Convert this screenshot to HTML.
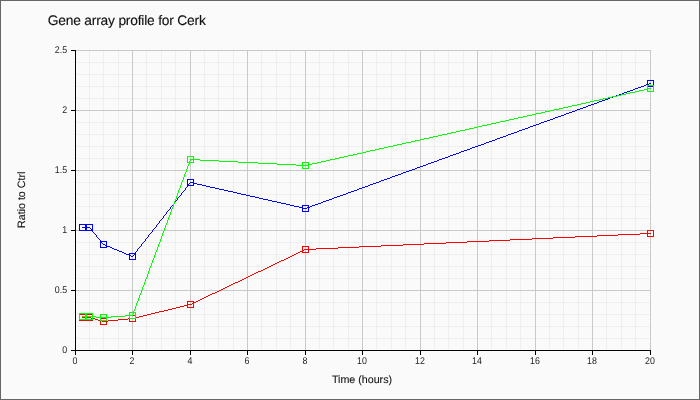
<!DOCTYPE html>
<html><head><meta charset="utf-8"><title>Gene array profile for Cerk</title>
<style>
html,body{margin:0;padding:0;background:#fafafa;}
body{width:700px;height:400px;overflow:hidden;}
svg{display:block;text-rendering:geometricPrecision;will-change:transform;font-family:"Liberation Sans",Arial,sans-serif;}
</style></head><body>
<svg width="700" height="400" viewBox="0 0 700 400">
<rect x="0" y="0" width="700" height="400" fill="#fafafa"/>
<rect x="0.5" y="0.5" width="699" height="399" fill="none" stroke="#666" stroke-width="1" shape-rendering="crispEdges"/>
<g shape-rendering="crispEdges" stroke-width="1" fill="none">
<path d="M89.5 50V350M103.5 50V350M118.5 50V350M146.5 50V350M161.5 50V350M175.5 50V350M204.5 50V350M218.5 50V350M233.5 50V350M261.5 50V350M276.5 50V350M290.5 50V350M319.5 50V350M333.5 50V350M348.5 50V350M376.5 50V350M391.5 50V350M405.5 50V350M434.5 50V350M448.5 50V350M463.5 50V350M491.5 50V350M506.5 50V350M520.5 50V350M549.5 50V350M563.5 50V350M578.5 50V350M606.5 50V350M621.5 50V350M635.5 50V350M75 338.5H651M75 326.5H651M75 314.5H651M75 302.5H651M75 278.5H651M75 266.5H651M75 254.5H651M75 242.5H651M75 218.5H651M75 206.5H651M75 194.5H651M75 182.5H651M75 158.5H651M75 146.5H651M75 134.5H651M75 122.5H651M75 98.5H651M75 86.5H651M75 74.5H651M75 62.5H651" stroke="#efefef"/>
<path d="M75.5 50V350M132.5 50V350M190.5 50V350M247.5 50V350M305.5 50V350M362.5 50V350M420.5 50V350M477.5 50V350M535.5 50V350M592.5 50V350M650.5 50V350M75 350.5H651M75 290.5H651M75 230.5H651M75 170.5H651M75 110.5H651M75 50.5H651" stroke="#c9c9c9"/>
<path d="M75.5 50V351M75 350.5H651M75.5 350V355M132.5 350V355M190.5 350V355M247.5 350V355M305.5 350V355M362.5 350V355M420.5 350V355M477.5 350V355M535.5 350V355M592.5 350V355M650.5 350V355M71 350.5H75M71 290.5H75M71 230.5H75M71 170.5H75M71 110.5H75M71 50.5H75" stroke="#000"/>
<path d="M79 224h14v1h-14zM85 225h2v1h-2zM85 226h2v1h-2zM82 227h8v1h-8zM85 228h2v1h-2zM85 229h2v1h-2zM91 229h2v1h-2zM79 230h14v1h-14zM100 241h7v1h-7zM100 242h2v1h-2zM103 244h2v1h-2zM105 245h2v1h-2zM106 246h4v1h-4zM100 247h7v1h-7zM110 247h2v1h-2zM112 248h2v1h-2zM114 249h3v1h-3zM117 250h2v1h-2zM119 251h3v1h-3zM122 252h2v1h-2zM124 253h2v1h-2zM129 253h7v1h-7zM126 254h4v1h-4zM134 254h2v1h-2zM129 255h2v1h-2zM131 256h2v1h-2zM129 259h7v1h-7zM302 211h7v1h-7zM299 207h4v1h-4zM307 207h3v1h-3zM302 208h5v1h-5zM294 206h5v1h-5zM310 206h2v1h-2zM290 205h4v1h-4zM302 205h7v1h-7zM312 205h3v1h-3zM286 204h4v1h-4zM315 204h3v1h-3zM277 202h4v1h-4zM321 202h2v1h-2zM281 203h5v1h-5zM318 203h3v1h-3zM272 201h5v1h-5zM323 201h3v1h-3zM268 200h4v1h-4zM326 200h3v1h-3zM259 198h4v1h-4zM332 198h2v1h-2zM263 199h5v1h-5zM329 199h3v1h-3zM255 197h4v1h-4zM334 197h3v1h-3zM250 196h5v1h-5zM337 196h3v1h-3zM246 195h4v1h-4zM340 195h3v1h-3zM237 193h4v1h-4zM346 193h2v1h-2zM241 194h5v1h-5zM343 194h3v1h-3zM233 192h4v1h-4zM348 192h3v1h-3zM228 191h5v1h-5zM351 191h3v1h-3zM224 190h4v1h-4zM354 190h3v1h-3zM215 188h4v1h-4zM359 188h3v1h-3zM219 189h5v1h-5zM357 189h2v1h-2zM210 187h5v1h-5zM362 187h3v1h-3zM187 179h7v1h-7zM384 179h3v1h-3zM381 180h3v1h-3zM379 181h2v1h-2zM190 182h4v1h-4zM376 182h3v1h-3zM193 183h4v1h-4zM373 183h3v1h-3zM187 184h2v1h-2zM197 184h5v1h-5zM370 184h3v1h-3zM187 185h7v1h-7zM202 185h4v1h-4zM368 185h2v1h-2zM206 186h4v1h-4zM365 186h3v1h-3zM387 178h3v1h-3zM390 177h2v1h-2zM392 176h3v1h-3zM395 175h3v1h-3zM398 174h3v1h-3zM401 173h2v1h-2zM403 172h3v1h-3zM406 171h3v1h-3zM409 170h3v1h-3zM412 169h3v1h-3zM415 168h2v1h-2zM417 167h3v1h-3zM420 166h3v1h-3zM423 165h3v1h-3zM426 164h2v1h-2zM428 163h3v1h-3zM431 162h3v1h-3zM434 161h3v1h-3zM437 160h2v1h-2zM439 159h3v1h-3zM442 158h3v1h-3zM445 157h3v1h-3zM448 156h2v1h-2zM450 155h3v1h-3zM453 154h3v1h-3zM456 153h3v1h-3zM459 152h2v1h-2zM461 151h3v1h-3zM464 150h3v1h-3zM467 149h3v1h-3zM470 148h2v1h-2zM472 147h3v1h-3zM475 146h3v1h-3zM478 145h3v1h-3zM481 144h3v1h-3zM484 143h2v1h-2zM486 142h3v1h-3zM489 141h3v1h-3zM492 140h3v1h-3zM495 139h2v1h-2zM497 138h3v1h-3zM500 137h3v1h-3zM503 136h3v1h-3zM506 135h2v1h-2zM508 134h3v1h-3zM511 133h3v1h-3zM514 132h3v1h-3zM517 131h2v1h-2zM519 130h3v1h-3zM522 129h3v1h-3zM525 128h3v1h-3zM528 127h2v1h-2zM530 126h3v1h-3zM533 125h3v1h-3zM536 124h3v1h-3zM539 123h2v1h-2zM541 122h3v1h-3zM544 121h3v1h-3zM547 120h3v1h-3zM550 119h3v1h-3zM553 118h2v1h-2zM555 117h3v1h-3zM558 116h3v1h-3zM561 115h3v1h-3zM564 114h2v1h-2zM566 113h3v1h-3zM569 112h3v1h-3zM572 111h3v1h-3zM575 110h2v1h-2zM577 109h3v1h-3zM580 108h3v1h-3zM583 107h3v1h-3zM586 106h2v1h-2zM588 105h3v1h-3zM591 104h3v1h-3zM594 103h3v1h-3zM597 102h2v1h-2zM599 101h3v1h-3zM602 100h3v1h-3zM605 99h3v1h-3zM608 98h2v1h-2zM610 97h3v1h-3zM613 96h3v1h-3zM616 95h3v1h-3zM619 94h3v1h-3zM622 93h2v1h-2zM624 92h3v1h-3zM627 91h3v1h-3zM630 90h3v1h-3zM633 89h2v1h-2zM635 88h3v1h-3zM638 87h3v1h-3zM641 86h3v1h-3zM647 86h7v1h-7zM644 85h2v1h-2zM646 84h3v1h-3zM647 80h7v1h-7zM649 83h2v1h-2zM157 224h1v1h-1zM79 225h1v5h-1zM92 225h1v4h-1zM92 231h1v1h-1zM156 225h1v2h-1zM155 227h1v1h-1zM90 228h1v1h-1zM154 228h1v1h-1zM153 229h1v1h-1zM152 230h1v2h-1zM93 232h1v1h-1zM151 232h1v1h-1zM94 233h1v1h-1zM150 233h1v1h-1zM95 234h1v1h-1zM149 234h1v1h-1zM96 235h1v2h-1zM148 235h1v2h-1zM97 237h1v1h-1zM147 237h1v1h-1zM98 238h1v1h-1zM146 238h1v1h-1zM99 239h1v1h-1zM145 239h1v2h-1zM100 240h1v1h-1zM100 243h1v4h-1zM144 241h1v1h-1zM106 242h1v3h-1zM143 242h1v1h-1zM102 243h1v1h-1zM142 243h1v1h-1zM141 244h1v2h-1zM140 246h1v1h-1zM139 247h1v1h-1zM138 248h1v1h-1zM137 249h1v2h-1zM136 251h1v1h-1zM135 252h1v1h-1zM135 255h1v4h-1zM133 255h1v1h-1zM129 256h1v3h-1zM158 223h1v1h-1zM159 221h1v2h-1zM160 220h1v1h-1zM161 219h1v1h-1zM162 218h1v1h-1zM163 216h1v2h-1zM164 215h1v1h-1zM165 214h1v1h-1zM166 212h1v2h-1zM167 211h1v1h-1zM168 210h1v1h-1zM302 206h1v1h-1zM302 209h1v2h-1zM308 206h1v1h-1zM308 208h1v3h-1zM169 209h1v1h-1zM170 207h1v2h-1zM171 206h1v1h-1zM172 205h1v1h-1zM173 204h1v1h-1zM174 202h1v2h-1zM175 201h1v1h-1zM176 200h1v1h-1zM177 198h1v2h-1zM178 197h1v1h-1zM179 196h1v1h-1zM180 195h1v1h-1zM181 193h1v2h-1zM182 192h1v1h-1zM183 191h1v1h-1zM184 190h1v1h-1zM185 188h1v2h-1zM186 187h1v1h-1zM187 180h1v4h-1zM187 186h1v1h-1zM193 180h1v2h-1zM193 184h1v1h-1zM189 183h1v1h-1zM647 81h1v3h-1zM647 85h1v1h-1zM653 81h1v5h-1z" fill="#0000ff" stroke="none"/>
<path d="M79 314h14v1h-14zM147 314h4v1h-4zM85 315h2v1h-2zM129 315h7v1h-7zM143 315h4v1h-4zM85 316h2v1h-2zM139 316h4v1h-4zM82 317h9v1h-9zM135 317h4v1h-4zM85 318h2v1h-2zM91 318h4v1h-4zM100 318h7v1h-7zM128 318h8v1h-8zM85 319h2v1h-2zM95 319h3v1h-3zM118 319h10v1h-10zM79 320h14v1h-14zM98 320h4v1h-4zM108 320h10v1h-10zM102 321h6v1h-6zM129 321h7v1h-7zM100 324h7v1h-7zM151 313h4v1h-4zM155 312h4v1h-4zM159 311h5v1h-5zM164 310h4v1h-4zM168 309h4v1h-4zM172 308h4v1h-4zM176 307h4v1h-4zM187 307h7v1h-7zM180 306h4v1h-4zM184 305h4v1h-4zM187 301h7v1h-7zM196 301h2v1h-2zM193 302h3v1h-3zM192 303h2v1h-2zM187 304h5v1h-5zM198 300h2v1h-2zM200 299h2v1h-2zM202 298h2v1h-2zM204 297h2v1h-2zM206 296h2v1h-2zM208 295h2v1h-2zM210 294h2v1h-2zM212 293h3v1h-3zM215 292h2v1h-2zM217 291h2v1h-2zM219 290h2v1h-2zM221 289h2v1h-2zM223 288h2v1h-2zM225 287h2v1h-2zM227 286h2v1h-2zM229 285h2v1h-2zM231 284h2v1h-2zM233 283h2v1h-2zM235 282h3v1h-3zM238 281h2v1h-2zM240 280h2v1h-2zM242 279h2v1h-2zM244 278h2v1h-2zM246 277h2v1h-2zM248 276h2v1h-2zM250 275h2v1h-2zM252 274h2v1h-2zM254 273h2v1h-2zM256 272h2v1h-2zM258 271h3v1h-3zM261 270h2v1h-2zM263 269h2v1h-2zM265 268h2v1h-2zM267 267h2v1h-2zM269 266h2v1h-2zM271 265h2v1h-2zM273 264h2v1h-2zM275 263h2v1h-2zM277 262h2v1h-2zM279 261h2v1h-2zM281 260h3v1h-3zM284 259h2v1h-2zM286 258h2v1h-2zM288 257h2v1h-2zM290 256h2v1h-2zM292 255h2v1h-2zM294 254h2v1h-2zM296 253h2v1h-2zM298 252h2v1h-2zM302 252h7v1h-7zM300 251h3v1h-3zM302 246h7v1h-7zM359 246h22v1h-22zM338 247h21v1h-21zM316 248h22v1h-22zM304 249h12v1h-12zM302 250h2v1h-2zM381 245h22v1h-22zM403 244h21v1h-21zM424 243h22v1h-22zM446 242h21v1h-21zM467 241h22v1h-22zM489 240h21v1h-21zM510 239h22v1h-22zM532 238h21v1h-21zM553 237h22v1h-22zM575 236h22v1h-22zM647 236h7v1h-7zM597 235h21v1h-21zM618 234h22v1h-22zM640 233h11v1h-11zM647 230h7v1h-7zM79 315h1v5h-1zM92 315h1v3h-1zM92 319h1v1h-1zM129 316h1v2h-1zM129 319h1v2h-1zM135 316h1v1h-1zM135 319h1v2h-1zM100 319h1v1h-1zM100 321h1v3h-1zM106 319h1v2h-1zM106 322h1v2h-1zM187 302h1v2h-1zM187 306h1v1h-1zM193 304h1v3h-1zM308 247h1v2h-1zM308 250h1v2h-1zM302 247h1v3h-1zM647 231h1v2h-1zM647 234h1v2h-1zM653 231h1v5h-1z" fill="#ff0000" stroke="none"/>
<path d="M79 313h14v1h-14zM85 314h2v1h-2zM100 314h7v1h-7zM85 315h2v1h-2zM125 315h8v1h-8zM82 316h14v1h-14zM111 316h14v1h-14zM85 317h2v1h-2zM96 317h15v1h-15zM85 318h2v1h-2zM129 318h7v1h-7zM79 319h14v1h-14zM100 320h7v1h-7zM129 312h7v1h-7zM187 156h7v1h-7zM344 156h4v1h-4zM339 157h5v1h-5zM335 158h4v1h-4zM190 159h10v1h-10zM330 159h5v1h-5zM200 160h19v1h-19zM326 160h4v1h-4zM219 161h19v1h-19zM321 161h5v1h-5zM187 162h7v1h-7zM238 162h20v1h-20zM302 162h7v1h-7zM317 162h4v1h-4zM302 168h7v1h-7zM277 164h19v1h-19zM308 164h4v1h-4zM296 165h13v1h-13zM258 163h19v1h-19zM312 163h5v1h-5zM348 155h5v1h-5zM353 154h4v1h-4zM357 153h5v1h-5zM362 152h4v1h-4zM366 151h4v1h-4zM370 150h5v1h-5zM375 149h4v1h-4zM379 148h5v1h-5zM384 147h4v1h-4zM388 146h5v1h-5zM393 145h4v1h-4zM397 144h5v1h-5zM402 143h4v1h-4zM406 142h5v1h-5zM411 141h4v1h-4zM415 140h5v1h-5zM420 139h4v1h-4zM424 138h5v1h-5zM429 137h4v1h-4zM433 136h5v1h-5zM438 135h4v1h-4zM442 134h5v1h-5zM447 133h4v1h-4zM451 132h5v1h-5zM456 131h4v1h-4zM460 130h5v1h-5zM465 129h4v1h-4zM469 128h5v1h-5zM474 127h4v1h-4zM478 126h4v1h-4zM482 125h5v1h-5zM487 124h4v1h-4zM491 123h5v1h-5zM496 122h4v1h-4zM500 121h5v1h-5zM505 120h4v1h-4zM509 119h5v1h-5zM514 118h4v1h-4zM518 117h5v1h-5zM523 116h4v1h-4zM527 115h5v1h-5zM532 114h4v1h-4zM536 113h5v1h-5zM541 112h4v1h-4zM545 111h5v1h-5zM550 110h4v1h-4zM554 109h5v1h-5zM559 108h4v1h-4zM563 107h5v1h-5zM568 106h4v1h-4zM572 105h5v1h-5zM577 104h4v1h-4zM581 103h5v1h-5zM586 102h4v1h-4zM590 101h4v1h-4zM594 100h5v1h-5zM599 99h4v1h-4zM603 98h5v1h-5zM608 97h4v1h-4zM612 96h5v1h-5zM617 95h4v1h-4zM621 94h5v1h-5zM626 93h4v1h-4zM630 92h5v1h-5zM635 91h4v1h-4zM647 91h7v1h-7zM639 90h5v1h-5zM644 89h4v1h-4zM647 85h7v1h-7zM647 88h4v1h-4zM129 313h1v2h-1zM129 316h1v2h-1zM133 311h1v1h-1zM133 313h1v1h-1zM135 306h1v3h-1zM135 313h1v5h-1zM79 314h1v5h-1zM92 314h1v2h-1zM92 317h1v2h-1zM132 314h1v1h-1zM100 315h1v2h-1zM100 318h1v2h-1zM106 315h1v2h-1zM106 318h1v2h-1zM134 309h1v2h-1zM136 303h1v3h-1zM137 301h1v2h-1zM138 298h1v3h-1zM139 295h1v3h-1zM140 293h1v2h-1zM141 290h1v3h-1zM142 287h1v3h-1zM143 285h1v2h-1zM144 282h1v3h-1zM145 279h1v3h-1zM146 277h1v2h-1zM147 274h1v3h-1zM148 271h1v3h-1zM149 268h1v3h-1zM150 266h1v2h-1zM151 263h1v3h-1zM152 260h1v3h-1zM153 258h1v2h-1zM154 255h1v3h-1zM155 252h1v3h-1zM156 250h1v2h-1zM157 247h1v3h-1zM158 244h1v3h-1zM159 242h1v2h-1zM160 239h1v3h-1zM161 236h1v3h-1zM162 233h1v3h-1zM163 231h1v2h-1zM164 228h1v3h-1zM165 225h1v3h-1zM166 223h1v2h-1zM167 220h1v3h-1zM168 217h1v3h-1zM169 215h1v2h-1zM170 212h1v3h-1zM171 209h1v3h-1zM172 207h1v2h-1zM173 204h1v3h-1zM174 201h1v3h-1zM175 199h1v2h-1zM176 196h1v3h-1zM177 193h1v3h-1zM178 190h1v3h-1zM179 188h1v2h-1zM180 185h1v3h-1zM181 182h1v3h-1zM182 180h1v2h-1zM183 177h1v3h-1zM184 174h1v3h-1zM185 172h1v2h-1zM186 169h1v3h-1zM187 157h1v5h-1zM187 166h1v3h-1zM193 157h1v2h-1zM193 160h1v2h-1zM190 160h1v1h-1zM189 161h1v1h-1zM189 163h1v1h-1zM302 163h1v2h-1zM302 166h1v2h-1zM308 163h1v1h-1zM308 166h1v2h-1zM188 164h1v2h-1zM647 86h1v2h-1zM647 90h1v1h-1zM653 86h1v5h-1z" fill="#00ff00" stroke="none"/>
</g>
<g fill="#1c1c1c" font-size="9.8px">
<text transform="translate(75.0,364) scale(0.9,1)" text-anchor="middle">0</text>
<text transform="translate(132.0,364) scale(0.9,1)" text-anchor="middle">2</text>
<text transform="translate(190.0,364) scale(0.9,1)" text-anchor="middle">4</text>
<text transform="translate(247.0,364) scale(0.9,1)" text-anchor="middle">6</text>
<text transform="translate(305.0,364) scale(0.9,1)" text-anchor="middle">8</text>
<text transform="translate(362.0,364) scale(0.9,1)" text-anchor="middle">10</text>
<text transform="translate(420.0,364) scale(0.9,1)" text-anchor="middle">12</text>
<text transform="translate(477.0,364) scale(0.9,1)" text-anchor="middle">14</text>
<text transform="translate(535.0,364) scale(0.9,1)" text-anchor="middle">16</text>
<text transform="translate(592.0,364) scale(0.9,1)" text-anchor="middle">18</text>
<text transform="translate(650.0,364) scale(0.9,1)" text-anchor="middle">20</text>
<text transform="translate(67.1,353) scale(0.9,1)" text-anchor="end">0</text>
<text transform="translate(67.1,293) scale(0.9,1)" text-anchor="end">0.5</text>
<text transform="translate(67.1,233) scale(0.9,1)" text-anchor="end">1</text>
<text transform="translate(67.1,173) scale(0.9,1)" text-anchor="end">1.5</text>
<text transform="translate(67.1,113) scale(0.9,1)" text-anchor="end">2</text>
<text transform="translate(67.1,53) scale(0.9,1)" text-anchor="end">2.5</text>
<text x="362" y="382.8" font-size="10.7px" fill="#111" stroke="#111" stroke-width="0.1" text-anchor="middle">Time (hours)</text>
<text transform="translate(24.6,199.8) rotate(-90)" font-size="10.7px" fill="#111" stroke="#111" stroke-width="0.1" text-anchor="middle">Ratio to Ctrl</text>
</g>
<text x="47.8" y="24.5" font-size="13.8px" fill="#111" stroke="#111" stroke-width="0.12" textLength="158" lengthAdjust="spacing">Gene array profile for Cerk</text>
</svg></body></html>
